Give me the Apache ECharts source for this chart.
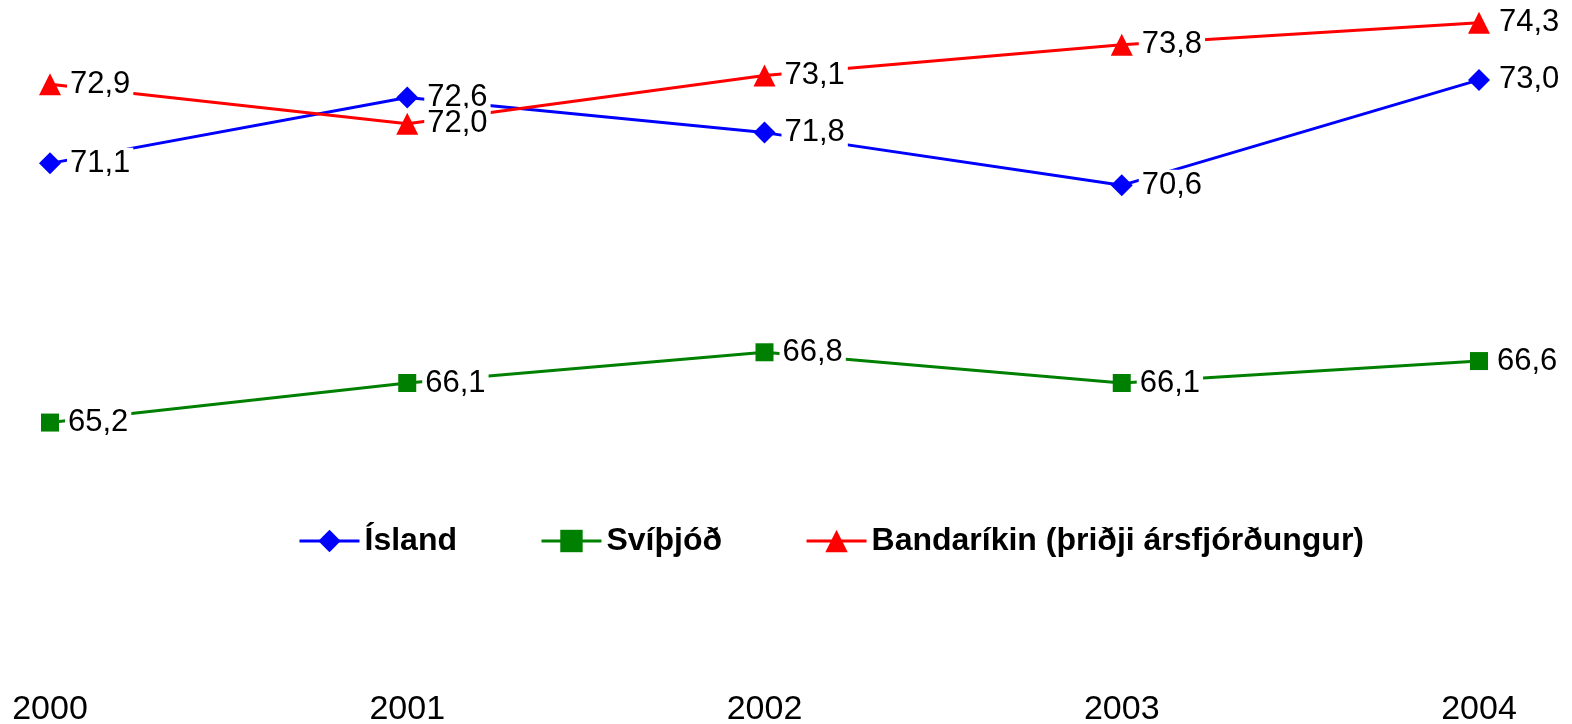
<!DOCTYPE html>
<html>
<head>
<meta charset="utf-8">
<script src="https://cdn.jsdelivr.net/npm/echarts@6/dist/echarts.min.js"></script>
<style>
html, body { margin: 0; padding: 0; background: #fff; }
#chart { width: 1572px; height: 724px; }
</style>
</head>
<body>
<div id="chart"></div>
<script>
var years = ['2000', '2001', '2002', '2003', '2004'];
var island = [71.1, 72.6, 71.8, 70.6, 73.0];
var svithjod = [65.2, 66.1, 66.8, 66.1, 66.6];
var bandarikin = [72.9, 72.0, 73.1, 73.8, 74.3];

var myChart = echarts.init(document.getElementById('chart'));
var font = 'Liberation Sans, Arial, sans-serif';

function makeSeries(name, data, color, symbol, size) {
    return {
        name: name,
        type: 'line',
        data: data,
        symbol: symbol,
        symbolSize: size,
        lineStyle: { color: color, width: 3 },
        itemStyle: { color: color },
        label: {
            show: true,
            position: 'right',
            distance: 6,
            color: '#000',
            fontFamily: font,
            fontSize: 31,
            backgroundColor: '#fff',
            padding: [0, 3],
            formatter: function (p) {
                return p.value.toFixed(1).replace('.', ',');
            }
        },
        animation: false
    };
}

var option = {
    backgroundColor: '#fff',
    grid: { left: 50, right: 93, top: 14, bottom: 73, outerBoundsMode: 'none' },
    legend: {
        top: 520,
        left: 293,
        itemWidth: 60,
        itemHeight: 28,
        itemGap: 83,
        lineStyle: { width: 3 },
        textStyle: { fontFamily: font, fontSize: 32, fontWeight: 'bold', color: '#000' },
        data: ['Ísland', 'Svíþjóð', 'Bandaríkin (þriðji ársfjórðungur)']
    },
    xAxis: {
        type: 'category',
        data: years,
        boundaryGap: false,
        axisLine: { show: false },
        axisTick: { show: false },
        axisLabel: { color: '#000', fontFamily: font, fontSize: 34, margin: 42 }
    },
    yAxis: {
        type: 'value',
        min: 60,
        max: 74.5,
        show: false
    },
    series: [
        makeSeries('Ísland', island, '#0000ff', 'diamond', 22),
        makeSeries('Svíþjóð', svithjod, '#008000', 'rect', 18),
        makeSeries('Bandaríkin (þriðji ársfjórðungur)', bandarikin, '#ff0000', 'triangle', 22)
    ]
};
myChart.setOption(option);
</script>
</body>
</html>
